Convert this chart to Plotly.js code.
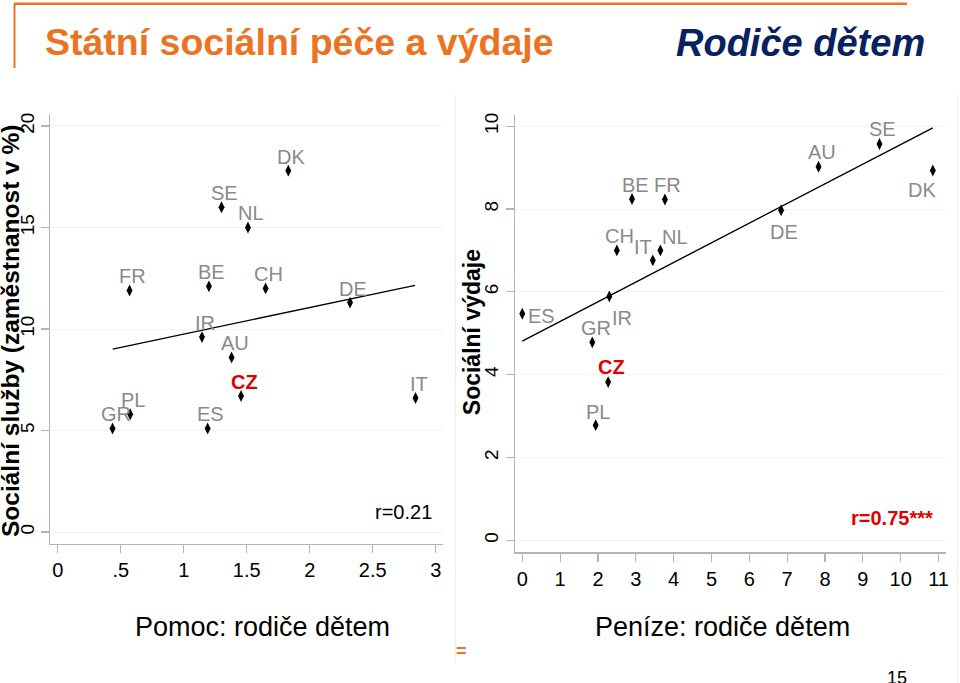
<!DOCTYPE html>
<html>
<head>
<meta charset="utf-8">
<script src="https://cdn.plot.ly/plotly-3.0.1.min.js"></script>
<style>
html,body{margin:0;padding:0;background:#fff;}
#chart{width:960px;height:683px;}
</style>
</head>
<body>
<div id="chart"></div>
<script>
// ---- Data: left panel (Pomoc: rodiče dětem vs. Sociální služby) ----
const leftCountries = ['DK','SE','NL','FR','BE','CH','DE','IR','AU','CZ','IT','PL','GR','ES'];
const leftX = [1.83, 1.30, 1.51, 0.57, 1.20, 1.65, 2.32, 1.145, 1.38, 1.455, 2.84, 0.575, 0.435, 1.19];
const leftY = [17.8, 16.0, 15.0, 11.9, 12.1, 12.0, 11.3, 9.6, 8.6, 6.7, 6.6, 5.8, 5.1, 5.1];
const leftFitX = [0.436, 2.836];
const leftFitY = [9.01, 12.15];
const leftXTicks = [0, 0.5, 1, 1.5, 2, 2.5, 3];
const leftXTickText = ['0', '.5', '1', '1.5', '2', '2.5', '3'];
const leftYTicks = [0, 5, 10, 15, 20];
const leftR = 'r=0.21';

// ---- Data: right panel (Peníze: rodiče dětem vs. Sociální výdaje) ----
const rightCountries = ['ES','GR','CZ','PL','IR','CH','IT','NL','BE','FR','DE','AU','SE','DK'];
const rightX = [0.0, 1.85, 2.27, 1.94, 2.30, 2.50, 3.45, 3.65, 2.90, 3.77, 6.84, 7.83, 9.44, 10.85];
const rightY = [5.47, 4.78, 3.82, 2.78, 5.89, 7.0, 6.76, 7.0, 8.24, 8.23, 7.97, 9.02, 9.57, 8.93];
const rightFitX = [0, 10.85];
const rightFitY = [4.81, 9.96];
const rightXTicks = [0,1,2,3,4,5,6,7,8,9,10,11];
const rightYTicks = [0, 2, 4, 6, 8, 10];
const rightR = 'r=0.75***';

const FONT = 'Liberation Sans, Arial, Helvetica, sans-serif';
const GRAY = '#8a8a8a';
const RED = '#e00000';
const ORANGE = '#ec7321';
const NAVY = '#0a2160';
const AXIS = '#b4b4b4';

// label placement (pixel offsets of label centre from its point; style only)
const leftOffset = {dx: 3, dy: 14};
const rightOffset = {
  ES: [19, -2], GR: [4, 14], CZ: [3, 15.5], PL: [2.5, 13.5], IR: [13, -21.5],
  CH: [3, 14.5], IT: [-10, 13.5], NL: [15, 13.7], BE: [3, 14], FR: [3, 14.5],
  DE: [3, -22], AU: [3, 14.4], SE: [3, 15], DK: [-11, -20]
};

const marker = {symbol: 'diamond-tall', size: 8.5, color: '#000'};

const traces = [
  {x: leftFitX, y: leftFitY, xaxis: 'x', yaxis: 'y', mode: 'lines',
   line: {color: '#000', width: 1.4}, hoverinfo: 'skip'},
  {x: leftX, y: leftY, xaxis: 'x', yaxis: 'y', mode: 'markers',
   marker: marker, cliponaxis: false, text: leftCountries},
  {x: rightFitX, y: rightFitY, xaxis: 'x2', yaxis: 'y2', mode: 'lines',
   line: {color: '#000', width: 1.4}, hoverinfo: 'skip'},
  {x: rightX, y: rightY, xaxis: 'x2', yaxis: 'y2', mode: 'markers',
   marker: marker, cliponaxis: false, text: rightCountries}
];

function labelAnn(country, x, y, xref, yref, dx, dy) {
  const cz = country === 'CZ';
  return {
    xref: xref, yref: yref, x: x, y: y, xanchor: 'center', yanchor: 'middle',
    xshift: dx, yshift: dy, showarrow: false,
    text: cz ? '<b>' + country + '</b>' : country,
    font: {family: FONT, size: 20, color: cz ? RED : GRAY}
  };
}

const W = 960, H = 683;
const px = v => v / W;
const py = v => 1 - v / H;

const axisCommon = {
  showline: true, linecolor: AXIS, linewidth: 1.2,
  ticks: 'outside', ticklen: 8, tickcolor: AXIS, tickwidth: 1.2,
  tickfont: {family: FONT, size: 20, color: '#000'},
  zeroline: false, fixedrange: true
};

const annotations = [
  {xref: 'paper', yref: 'paper', x: px(43), y: py(42), xanchor: 'left', yanchor: 'middle',
   text: '<b>Státní sociální péče a výdaje</b>', showarrow: false,
   font: {family: FONT, size: 37.5, color: ORANGE}},
  {xref: 'paper', yref: 'paper', x: px(674), y: py(43), xanchor: 'left', yanchor: 'middle',
   text: '<b><i>Rodiče dětem</i></b>', showarrow: false,
   font: {family: FONT, size: 38, color: NAVY}},
  {xref: 'paper', yref: 'paper', x: px(262.5), y: py(626.7), xanchor: 'center', yanchor: 'middle',
   text: 'Pomoc: rodiče dětem', showarrow: false,
   font: {family: FONT, size: 27, color: '#000'}},
  {xref: 'paper', yref: 'paper', x: px(722), y: py(626.7), xanchor: 'center', yanchor: 'middle',
   text: 'Peníze: rodiče dětem', showarrow: false,
   font: {family: FONT, size: 27, color: '#000'}},
  {xref: 'paper', yref: 'paper', x: px(10.5), y: py(330.5), xanchor: 'center', yanchor: 'middle',
   textangle: -90, text: '<b>Sociální služby (zaměstnanost v %)</b>', showarrow: false,
   font: {family: FONT, size: 24.5, color: '#000'}},
  {xref: 'paper', yref: 'paper', x: px(471.7), y: py(332.5), xanchor: 'center', yanchor: 'middle',
   textangle: -90, text: '<b>Sociální výdaje</b>', showarrow: false,
   font: {family: FONT, size: 23, color: '#000'}},
  {xref: 'paper', yref: 'paper', x: px(403.7), y: py(511.7), xanchor: 'center', yanchor: 'middle',
   text: leftR, showarrow: false, font: {family: FONT, size: 20, color: '#000'}},
  {xref: 'paper', yref: 'paper', x: px(892), y: py(518.3), xanchor: 'center', yanchor: 'middle',
   text: '<b>' + rightR + '</b>', showarrow: false, font: {family: FONT, size: 20, color: RED}},
  {xref: 'paper', yref: 'paper', x: px(461), y: py(651), xanchor: 'center', yanchor: 'middle',
   text: '<b>=</b>', showarrow: false, font: {family: FONT, size: 18, color: ORANGE}},
  {xref: 'paper', yref: 'paper', x: px(897), y: py(666), xanchor: 'center', yanchor: 'top',
   text: '15', showarrow: false, font: {family: FONT, size: 18, color: '#000'}}
];

leftCountries.forEach((c, i) => {
  annotations.push(labelAnn(c, leftX[i], leftY[i], 'x', 'y', leftOffset.dx, leftOffset.dy));
});
rightCountries.forEach((c, i) => {
  const o = rightOffset[c];
  annotations.push(labelAnn(c, rightX[i], rightY[i], 'x2', 'y2', o[0], o[1]));
});

const layout = {
  width: W, height: H,
  margin: {l: 0, r: 0, t: 0, b: 0},
  paper_bgcolor: '#fff', plot_bgcolor: '#fff',
  showlegend: false,
  font: {family: FONT},
  xaxis: Object.assign({}, axisCommon, {
    domain: [px(50.3), px(443)], range: [-0.059, 3.058], anchor: 'y',
    tickmode: 'array', tickvals: leftXTicks, ticktext: leftXTickText, showgrid: false
  }),
  yaxis: Object.assign({}, axisCommon, {
    domain: [py(544), py(114)], range: [-0.59, 20.59], anchor: 'x',
    tickmode: 'array', tickvals: leftYTicks, tickangle: -90,
    tickfont: {family: FONT, size: 19, color: '#000'},
    showgrid: true, gridcolor: '#f2f2f2', gridwidth: 1
  }),
  xaxis2: Object.assign({}, axisCommon, {
    domain: [px(514.7), px(945.7)], range: [-0.20, 11.19], anchor: 'y2',
    tickmode: 'array', tickvals: rightXTicks, showgrid: false
  }),
  yaxis2: Object.assign({}, axisCommon, {
    domain: [py(552.3), py(115)], range: [-0.29, 10.27], anchor: 'x2',
    tickmode: 'array', tickvals: rightYTicks, tickangle: -90,
    tickfont: {family: FONT, size: 19, color: '#000'},
    showgrid: true, gridcolor: '#f2f2f2', gridwidth: 1
  }),
  shapes: [
    {type: 'line', xref: 'paper', yref: 'paper', x0: px(14), x1: px(907), y0: py(3.8), y1: py(3.8),
     line: {color: ORANGE, width: 2.5}},
    {type: 'line', xref: 'paper', yref: 'paper', x0: px(14.5), x1: px(14.5), y0: py(3), y1: py(68),
     line: {color: ORANGE, width: 2}},
    {type: 'line', xref: 'paper', yref: 'paper', x0: px(455.5), x1: px(455.5), y0: py(95), y1: py(663),
     line: {color: '#efefef', width: 1}},
    {type: 'line', xref: 'paper', yref: 'paper', x0: px(957.5), x1: px(957.5), y0: py(95), y1: py(683),
     line: {color: '#efefef', width: 1}}
  ],
  annotations: annotations
};

Plotly.newPlot('chart', traces, layout, {staticPlot: true, displayModeBar: false});
</script>
</body>
</html>
